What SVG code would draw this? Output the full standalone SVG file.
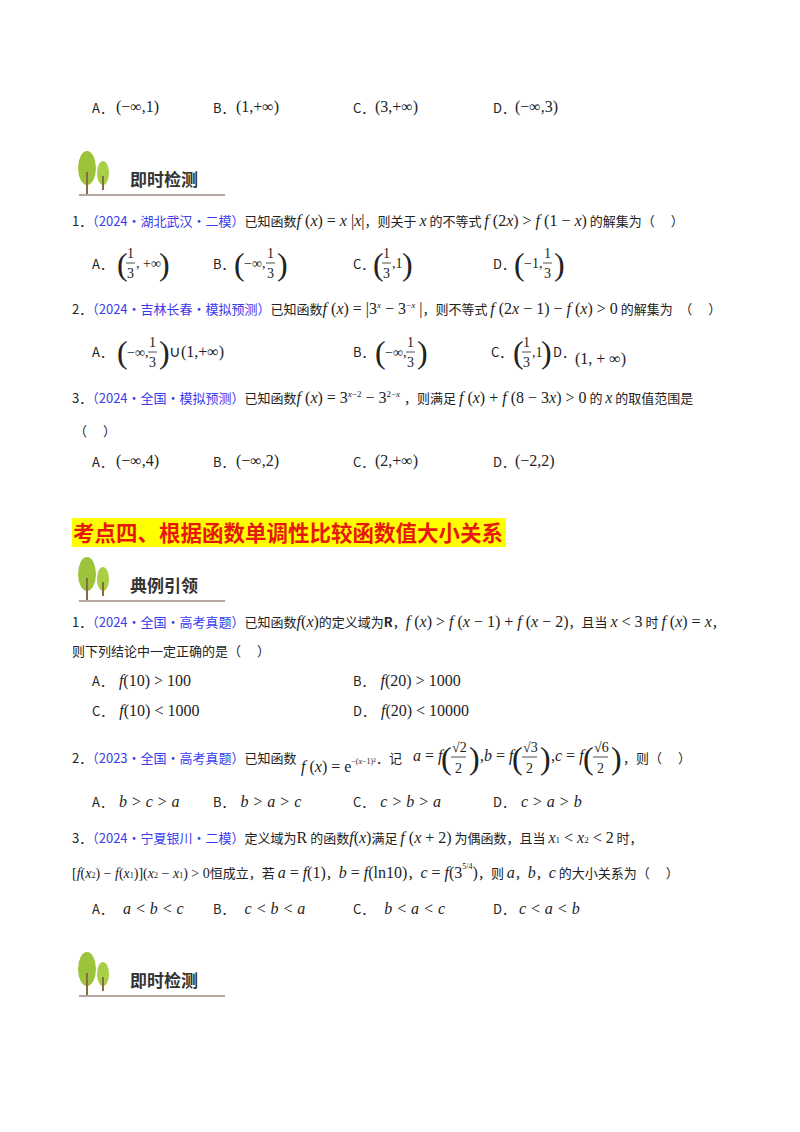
<svg xmlns="http://www.w3.org/2000/svg" width="800" height="1132" viewBox="0 0 800 1132">
<style>
text{font-family:"Noto Sans CJK SC","Noto Sans",sans-serif;font-size:13px;fill:#222}
.b{fill:#3a3aee}
.m{font-family:"Liberation Serif",serif;font-size:16px}
.i{font-style:italic}
.p{font-family:"Liberation Serif",serif;font-size:32px}
.s{font-family:"Liberation Serif",serif;font-size:14px}
.h{font-size:17px;font-weight:bold;fill:#333}
.fr{stroke:#222;stroke-width:0.8}
</style>
<defs>
<g id="icon">
<ellipse cx="14" cy="14" rx="9" ry="17" fill="#9bc43a"/>
<ellipse cx="30" cy="19" rx="6" ry="12" fill="#a9cf46"/>
<line x1="14" y1="18" x2="14" y2="40" stroke="#8a6a40" stroke-width="2"/>
<line x1="30" y1="22" x2="30" y2="36" stroke="#8a6a40" stroke-width="2"/>
<line x1="6" y1="41" x2="152" y2="41" stroke="#9a8a80" stroke-width="1.5"/>
</g>
</defs>

<!-- top options -->
<text x="92" y="113">A．</text><text x="116" y="112" class="m">(−∞,1)</text>
<text x="213" y="113">B．</text><text x="236" y="112" class="m">(1,+∞)</text>
<text x="353" y="113">C．</text><text x="375" y="112" class="m">(3,+∞)</text>
<text x="493" y="113">D．</text><text x="515" y="112" class="m">(−∞,3)</text>

<g id="icon1" transform="translate(73,154)"><use href="#icon"/><text x="57" y="32" class="h">即时检测</text></g>

<!-- Q1 -->
<text x="72" y="226">1．<tspan class="b">（2024·湖北武汉·二模）</tspan>已知函数<tspan class="m"><tspan class="i">f</tspan> (<tspan class="i">x</tspan>) = <tspan class="i">x</tspan> |<tspan class="i">x</tspan>|</tspan>，则关于 <tspan class="m i">x</tspan> 的不等式 <tspan class="m"><tspan class="i">f</tspan> (2<tspan class="i">x</tspan>) &gt; <tspan class="i">f</tspan> (1 − <tspan class="i">x</tspan>)</tspan> 的解集为（　 ）</text>
<text x="92" y="269">A．</text><text x="117" y="275" class="p">(</text><text x="127" y="258" class="s">1</text><line x1="126" y1="263" x2="135" y2="263" class="fr"/><text x="127" y="278" class="s">3</text><text x="136" y="268" class="s">, +∞</text><text x="159" y="275" class="p">)</text>
<text x="213" y="269">B．</text><text x="234" y="275" class="p">(</text><text x="244" y="268" class="s">−∞,</text><text x="267" y="258" class="s">1</text><line x1="266" y1="263" x2="275" y2="263" class="fr"/><text x="267" y="278" class="s">3</text><text x="277" y="275" class="p">)</text>
<text x="353" y="269">C．</text><text x="373" y="275" class="p">(</text><text x="383" y="258" class="s">1</text><line x1="382" y1="263" x2="391" y2="263" class="fr"/><text x="383" y="278" class="s">3</text><text x="392" y="268" class="s">,1</text><text x="402" y="275" class="p">)</text>
<text x="493" y="269">D．</text><text x="514" y="275" class="p">(</text><text x="524" y="268" class="s">−1,</text><text x="544" y="258" class="s">1</text><line x1="543" y1="263" x2="552" y2="263" class="fr"/><text x="544" y="278" class="s">3</text><text x="554" y="275" class="p">)</text>

<!-- Q2 -->
<text x="72" y="314">2．<tspan class="b">（2024·吉林长春·模拟预测）</tspan>已知函数<tspan class="m"><tspan class="i">f</tspan> (<tspan class="i">x</tspan>) = |3<tspan font-size="9" dy="-6" class="i">x</tspan><tspan dy="6"> − 3</tspan><tspan font-size="9" dy="-6">−<tspan class="i">x</tspan></tspan><tspan dy="6"> |</tspan></tspan>，则不等式 <tspan class="m"><tspan class="i">f</tspan> (2<tspan class="i">x</tspan> − 1) − <tspan class="i">f</tspan> (<tspan class="i">x</tspan>) &gt; 0</tspan> 的解集为　（　 ）</text>
<text x="92" y="357">A．</text><text x="117" y="363" class="p">(</text><text x="127" y="357" class="s">−∞,</text><text x="149" y="347" class="s">1</text><line x1="148" y1="352" x2="157" y2="352" class="fr"/><text x="149" y="367" class="s">3</text><text x="159" y="363" class="p">)</text><text x="169" y="357" class="m">∪(1,+∞)</text>
<text x="353" y="357">B．</text><text x="375" y="363" class="p">(</text><text x="385" y="357" class="s">−∞,</text><text x="407" y="347" class="s">1</text><line x1="406" y1="352" x2="415" y2="352" class="fr"/><text x="407" y="367" class="s">3</text><text x="417" y="363" class="p">)</text>
<text x="491" y="357">C．</text><text x="513" y="363" class="p">(</text><text x="523" y="347" class="s">1</text><line x1="522" y1="352" x2="531" y2="352" class="fr"/><text x="523" y="367" class="s">3</text><text x="532" y="357" class="s">,1</text><text x="541" y="363" class="p">)</text><text x="553" y="357">D．</text><text x="575" y="364" class="m">(1, + ∞)</text>

<!-- Q3 -->
<text x="72" y="403">3．<tspan class="b">（2024·全国·模拟预测）</tspan>已知函数<tspan class="m"><tspan class="i">f</tspan> (<tspan class="i">x</tspan>) = 3<tspan font-size="9" dy="-6"><tspan class="i">x</tspan>−2</tspan><tspan dy="6"> − 3</tspan><tspan font-size="9" dy="-6">2−<tspan class="i">x</tspan></tspan><tspan dy="6"> </tspan></tspan>，则满足 <tspan class="m"><tspan class="i">f</tspan> (<tspan class="i">x</tspan>) + <tspan class="i">f</tspan> (8 − 3<tspan class="i">x</tspan>) &gt; 0</tspan> 的 <tspan class="m i">x</tspan> 的取值范围是</text>
<text x="74" y="436">（　 ）</text>
<text x="92" y="467">A．</text><text x="116" y="466" class="m">(−∞,4)</text>
<text x="213" y="467">B．</text><text x="236" y="466" class="m">(−∞,2)</text>
<text x="353" y="467">C．</text><text x="375" y="466" class="m">(2,+∞)</text>
<text x="493" y="467">D．</text><text x="515" y="466" class="m">(−2,2)</text>

<g id="section">
<rect x="72" y="518" width="434" height="29" fill="#ffff00"/>
<text x="73" y="541" style="fill:#e8170f;font-size:21.5px;font-weight:bold">考点四、根据函数单调性比较函数值大小关系</text>
</g>

<g id="icon2" transform="translate(73,560)"><use href="#icon"/><text x="57" y="32" class="h">典例引领</text></g>

<!-- Q1 -->
<text x="72" y="627">1．<tspan class="b">（2024·全国·高考真题）</tspan>已知函数<tspan class="m"><tspan class="i">f</tspan>(<tspan class="i">x</tspan>)</tspan>的定义域为<tspan font-weight="bold">R</tspan>，<tspan class="m"><tspan class="i">f</tspan> (<tspan class="i">x</tspan>) &gt; <tspan class="i">f</tspan> (<tspan class="i">x</tspan> − 1) + <tspan class="i">f</tspan> (<tspan class="i">x</tspan> − 2)</tspan>，且当 <tspan class="m"><tspan class="i">x</tspan> &lt; 3</tspan> 时 <tspan class="m"><tspan class="i">f</tspan> (<tspan class="i">x</tspan>) = <tspan class="i">x</tspan></tspan>，</text>
<text x="72" y="656">则下列结论中一定正确的是（　 ）</text>
<text x="92" y="686">A．<tspan class="m" dx="6"><tspan class="i">f</tspan>(10) &gt; 100</tspan></text>
<text x="353" y="686">B．<tspan class="m" dx="6"><tspan class="i">f</tspan>(20) &gt; 1000</tspan></text>
<text x="92" y="716">C．<tspan class="m" dx="6"><tspan class="i">f</tspan>(10) &lt; 1000</tspan></text>
<text x="353" y="716">D．<tspan class="m" dx="6"><tspan class="i">f</tspan>(20) &lt; 10000</tspan></text>

<!-- Q2 -->
<text x="72" y="763">2．<tspan class="b">（2023·全国·高考真题）</tspan>已知函数</text>
<text x="301" y="772" class="m"><tspan class="i">f</tspan> (<tspan class="i">x</tspan>) = e<tspan font-size="8" dy="-8">−(<tspan class="i">x</tspan>−1)²</tspan></text>
<text x="376" y="763">．记</text>
<text x="413" y="761" class="m"><tspan class="i">a</tspan> = <tspan class="i">f</tspan></text>
<text x="441" y="769" class="p">(</text><text x="452" y="752" class="s">√2</text><line x1="451" y1="757" x2="466" y2="757" class="fr"/><text x="455" y="773" class="s">2</text><text x="469" y="769" class="p">)</text>
<text x="480" y="761" class="m">,<tspan class="i">b</tspan> = <tspan class="i">f</tspan></text>
<text x="512" y="769" class="p">(</text><text x="523" y="752" class="s">√3</text><line x1="522" y1="757" x2="537" y2="757" class="fr"/><text x="526" y="773" class="s">2</text><text x="540" y="769" class="p">)</text>
<text x="551" y="761" class="m">,<tspan class="i">c</tspan> = <tspan class="i">f</tspan></text>
<text x="583" y="769" class="p">(</text><text x="594" y="752" class="s">√6</text><line x1="593" y1="757" x2="608" y2="757" class="fr"/><text x="597" y="773" class="s">2</text><text x="611" y="769" class="p">)</text>
<text x="623" y="763">，则（　 ）</text>
<text x="92" y="807">A．<tspan class="m i" dx="6">b &gt; c &gt; a</tspan></text>
<text x="213" y="807">B．<tspan class="m i" dx="6">b &gt; a &gt; c</tspan></text>
<text x="353" y="807">C．<tspan class="m i" dx="6">c &gt; b &gt; a</tspan></text>
<text x="493" y="807">D．<tspan class="m i" dx="6">c &gt; a &gt; b</tspan></text>

<!-- Q3 -->
<text x="72" y="843">3．<tspan class="b">（2024·宁夏银川·二模）</tspan>定义域为<tspan class="m">R</tspan> 的函数<tspan class="m"><tspan class="i">f</tspan>(<tspan class="i">x</tspan>)</tspan>满足 <tspan class="m"><tspan class="i">f</tspan> (<tspan class="i">x</tspan> + 2)</tspan> 为偶函数，且当 <tspan class="m"><tspan class="i">x</tspan><tspan font-size="9">1</tspan> &lt; <tspan class="i">x</tspan><tspan font-size="9">2</tspan> &lt; 2</tspan> 时，</text>
<text x="72" y="878"><tspan class="s">[<tspan class="i">f</tspan>(<tspan class="i">x</tspan><tspan font-size="8">2</tspan>) − <tspan class="i">f</tspan>(<tspan class="i">x</tspan><tspan font-size="8">1</tspan>)](<tspan class="i">x</tspan><tspan font-size="8">2</tspan> − <tspan class="i">x</tspan><tspan font-size="8">1</tspan>) &gt; 0</tspan>恒成立，若 <tspan class="m"><tspan class="i">a</tspan> = <tspan class="i">f</tspan>(1)</tspan>，<tspan class="m"><tspan class="i">b</tspan> = <tspan class="i">f</tspan>(ln10)</tspan>，<tspan class="m"><tspan class="i">c</tspan> = <tspan class="i">f</tspan>(3<tspan font-size="8" dy="-9">5/4</tspan><tspan dy="9">)</tspan></tspan>，则 <tspan class="m i">a</tspan>，<tspan class="m i">b</tspan>，<tspan class="m i">c</tspan> 的大小关系为（　 ）</text>
<text x="92" y="914">A．<tspan class="m i" dx="10">a &lt; b &lt; c</tspan></text>
<text x="213" y="914">B．<tspan class="m i" dx="10">c &lt; b &lt; a</tspan></text>
<text x="353" y="914">C．<tspan class="m i" dx="10">b &lt; a &lt; c</tspan></text>
<text x="493" y="914">D．<tspan class="m i" dx="4">c &lt; a &lt; b</tspan></text>

<g id="icon3" transform="translate(73,955)"><use href="#icon"/><text x="57" y="32" class="h">即时检测</text></g>
</svg>
